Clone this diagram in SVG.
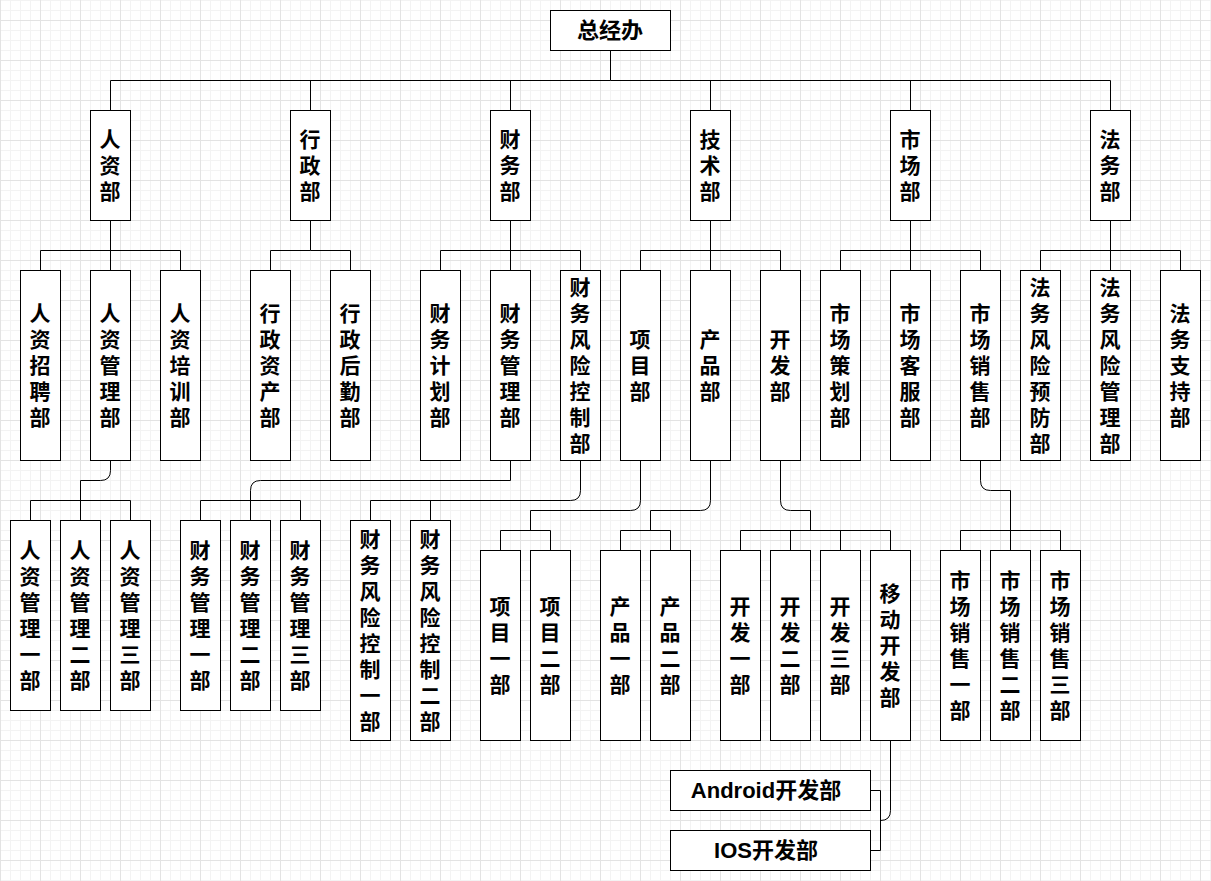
<svg xmlns="http://www.w3.org/2000/svg" width="1211" height="881" viewBox="0 0 1211 881">
<defs>
<pattern id="grid" x="0" y="20" width="40" height="40" patternUnits="userSpaceOnUse">
<rect width="40" height="40" fill="#ffffff"/>
<rect x="10" y="0" width="1" height="40" fill="#f3f3f3"/>
<rect x="20" y="0" width="1" height="40" fill="#f3f3f3"/>
<rect x="30" y="0" width="1" height="40" fill="#f3f3f3"/>
<rect x="0" y="10" width="40" height="1" fill="#f3f3f3"/>
<rect x="0" y="20" width="40" height="1" fill="#f3f3f3"/>
<rect x="0" y="30" width="40" height="1" fill="#f3f3f3"/>
<rect x="0" y="0" width="1" height="40" fill="#e3e3e3"/>
<rect x="0" y="0" width="40" height="1" fill="#e3e3e3"/>
</pattern>
</defs>
<style>
.n{fill:#ffffff;stroke:#000000;stroke-width:1}
.e{fill:none;stroke:#000000;stroke-width:1}
.t{font-family:"Liberation Sans","Noto Sans CJK SC",sans-serif;font-weight:bold;font-size:21px;fill:#000000;text-anchor:middle;dominant-baseline:central}
.w{font-size:22px}
</style>
<rect width="1211" height="881" fill="url(#grid)"/>
<g transform="translate(0.5,0.5)">
<g id="connectors">
<path class="e" d="M610 50V80H110V110M610 80H1110V110M310 80V110M510 80V110M710 80V110M910 80V110"/>
<path class="e" d="M110 220V270M110 250H40V270M110 250H180V270"/>
<path class="e" d="M310 220V250H270V270M310 250H350V270"/>
<path class="e" d="M510 220V270M510 250H440V270M510 250H580V270"/>
<path class="e" d="M710 220V270M710 250H640V270M710 250H780V270"/>
<path class="e" d="M910 220V270M910 250H840V270M910 250H980V270"/>
<path class="e" d="M1110 220V270M1110 250H1040V270M1110 250H1180V270"/>
<path class="e" d="M110 460V470Q110 480 100 480H80V520M30 520V500H130V520"/>
<path class="e" d="M510 460V480H260Q250 480 250 490V520M200 520V500H300V520"/>
<path class="e" d="M580 460V490Q580 500 570 500H370V520M430 500V520"/>
<path class="e" d="M640 460V500Q640 510 630 510H530V530M500 550V530H550V550"/>
<path class="e" d="M710 460V500Q710 510 700 510H650V530M620 550V530H670V550"/>
<path class="e" d="M780 460V500Q780 510 790 510H810V530M740 550V530H890V550M790 530V550M840 530V550"/>
<path class="e" d="M980 460V480Q980 490 990 490H1010V550M960 550V530H1060V550"/>
<path class="e" d="M890 740V810Q890 820 880 820M870 790H880V850H870"/>
</g>
</g>
<g transform="translate(0.5,0.5)">
<g id="n-root"><rect class="n" x="550" y="10" width="120" height="40"/></g>
<g id="n-rz"><rect class="n" x="90" y="110" width="40" height="110"/></g>
<g id="n-xz"><rect class="n" x="290" y="110" width="40" height="110"/></g>
<g id="n-cw"><rect class="n" x="490" y="110" width="40" height="110"/></g>
<g id="n-js"><rect class="n" x="690" y="110" width="40" height="110"/></g>
<g id="n-sc"><rect class="n" x="890" y="110" width="40" height="110"/></g>
<g id="n-fw"><rect class="n" x="1090" y="110" width="40" height="110"/></g>
<g id="n-l2"><rect class="n" x="20" y="270" width="40" height="190"/><rect class="n" x="90" y="270" width="40" height="190"/><rect class="n" x="160" y="270" width="40" height="190"/><rect class="n" x="250" y="270" width="40" height="190"/><rect class="n" x="330" y="270" width="40" height="190"/><rect class="n" x="420" y="270" width="40" height="190"/><rect class="n" x="490" y="270" width="40" height="190"/><rect class="n" x="560" y="270" width="40" height="190"/><rect class="n" x="620" y="270" width="40" height="190"/><rect class="n" x="690" y="270" width="40" height="190"/><rect class="n" x="760" y="270" width="40" height="190"/><rect class="n" x="820" y="270" width="40" height="190"/><rect class="n" x="890" y="270" width="40" height="190"/><rect class="n" x="960" y="270" width="40" height="190"/><rect class="n" x="1020" y="270" width="40" height="190"/><rect class="n" x="1090" y="270" width="40" height="190"/><rect class="n" x="1160" y="270" width="40" height="190"/></g>
<g id="n-l3"><rect class="n" x="10" y="520" width="40" height="190"/><rect class="n" x="60" y="520" width="40" height="190"/><rect class="n" x="110" y="520" width="40" height="190"/><rect class="n" x="180" y="520" width="40" height="190"/><rect class="n" x="230" y="520" width="40" height="190"/><rect class="n" x="280" y="520" width="40" height="190"/><rect class="n" x="350" y="520" width="40" height="220"/><rect class="n" x="410" y="520" width="40" height="220"/><rect class="n" x="480" y="550" width="40" height="190"/><rect class="n" x="530" y="550" width="40" height="190"/><rect class="n" x="600" y="550" width="40" height="190"/><rect class="n" x="650" y="550" width="40" height="190"/><rect class="n" x="720" y="550" width="40" height="190"/><rect class="n" x="770" y="550" width="40" height="190"/><rect class="n" x="820" y="550" width="40" height="190"/><rect class="n" x="870" y="550" width="40" height="190"/><rect class="n" x="940" y="550" width="40" height="190"/><rect class="n" x="990" y="550" width="40" height="190"/><rect class="n" x="1040" y="550" width="40" height="190"/></g>
<g id="n-android"><rect class="n" x="670" y="770" width="200" height="40"/></g>
<g id="n-ios"><rect class="n" x="670" y="830" width="200" height="40"/></g>
</g>
<g id="labels">
<text class="t w" x="610" y="30">总经办</text>
<text class="t" x="110 110 110" y="139 165 191">人资部</text>
<text class="t" x="310 310 310" y="139 165 191">行政部</text>
<text class="t" x="510 510 510" y="139 165 191">财务部</text>
<text class="t" x="710 710 710" y="139 165 191">技术部</text>
<text class="t" x="910 910 910" y="139 165 191">市场部</text>
<text class="t" x="1110 1110 1110" y="139 165 191">法务部</text>
<text class="t" x="40 40 40 40 40" y="313 339 365 391 417">人资招聘部</text>
<text class="t" x="110 110 110 110 110" y="313 339 365 391 417">人资管理部</text>
<text class="t" x="180 180 180 180 180" y="313 339 365 391 417">人资培训部</text>
<text class="t" x="270 270 270 270 270" y="313 339 365 391 417">行政资产部</text>
<text class="t" x="350 350 350 350 350" y="313 339 365 391 417">行政后勤部</text>
<text class="t" x="440 440 440 440 440" y="313 339 365 391 417">财务计划部</text>
<text class="t" x="510 510 510 510 510" y="313 339 365 391 417">财务管理部</text>
<text class="t" x="580 580 580 580 580 580 580" y="287 313 339 365 391 417 443">财务风险控制部</text>
<text class="t" x="640 640 640" y="339 365 391">项目部</text>
<text class="t" x="710 710 710" y="339 365 391">产品部</text>
<text class="t" x="780 780 780" y="339 365 391">开发部</text>
<text class="t" x="840 840 840 840 840" y="313 339 365 391 417">市场策划部</text>
<text class="t" x="910 910 910 910 910" y="313 339 365 391 417">市场客服部</text>
<text class="t" x="980 980 980 980 980" y="313 339 365 391 417">市场销售部</text>
<text class="t" x="1040 1040 1040 1040 1040 1040 1040" y="287 313 339 365 391 417 443">法务风险预防部</text>
<text class="t" x="1110 1110 1110 1110 1110 1110 1110" y="287 313 339 365 391 417 443">法务风险管理部</text>
<text class="t" x="1180 1180 1180 1180 1180" y="313 339 365 391 417">法务支持部</text>
<text class="t" x="30 30 30 30 30 30" y="550 576 602 628 654 680">人资管理一部</text>
<text class="t" x="80 80 80 80 80 80" y="550 576 602 628 654 680">人资管理二部</text>
<text class="t" x="130 130 130 130 130 130" y="550 576 602 628 654 680">人资管理三部</text>
<text class="t" x="200 200 200 200 200 200" y="550 576 602 628 654 680">财务管理一部</text>
<text class="t" x="250 250 250 250 250 250" y="550 576 602 628 654 680">财务管理二部</text>
<text class="t" x="300 300 300 300 300 300" y="550 576 602 628 654 680">财务管理三部</text>
<text class="t" x="370 370 370 370 370 370 370 370" y="539 565 591 617 643 669 695 721">财务风险控制一部</text>
<text class="t" x="430 430 430 430 430 430 430 430" y="539 565 591 617 643 669 695 721">财务风险控制二部</text>
<text class="t" x="500 500 500 500" y="606 632 658 684">项目一部</text>
<text class="t" x="550 550 550 550" y="606 632 658 684">项目二部</text>
<text class="t" x="620 620 620 620" y="606 632 658 684">产品一部</text>
<text class="t" x="670 670 670 670" y="606 632 658 684">产品二部</text>
<text class="t" x="740 740 740 740" y="606 632 658 684">开发一部</text>
<text class="t" x="790 790 790 790" y="606 632 658 684">开发二部</text>
<text class="t" x="840 840 840 840" y="606 632 658 684">开发三部</text>
<text class="t" x="890 890 890 890 890" y="593 619 645 671 697">移动开发部</text>
<text class="t" x="960 960 960 960 960 960" y="580 606 632 658 684 710">市场销售一部</text>
<text class="t" x="1010 1010 1010 1010 1010 1010" y="580 606 632 658 684 710">市场销售二部</text>
<text class="t" x="1060 1060 1060 1060 1060 1060" y="580 606 632 658 684 710">市场销售三部</text>
<text class="t w" x="766" y="790">Android开发部</text>
<text class="t w" x="766" y="850">IOS开发部</text>
</g>
</svg>
